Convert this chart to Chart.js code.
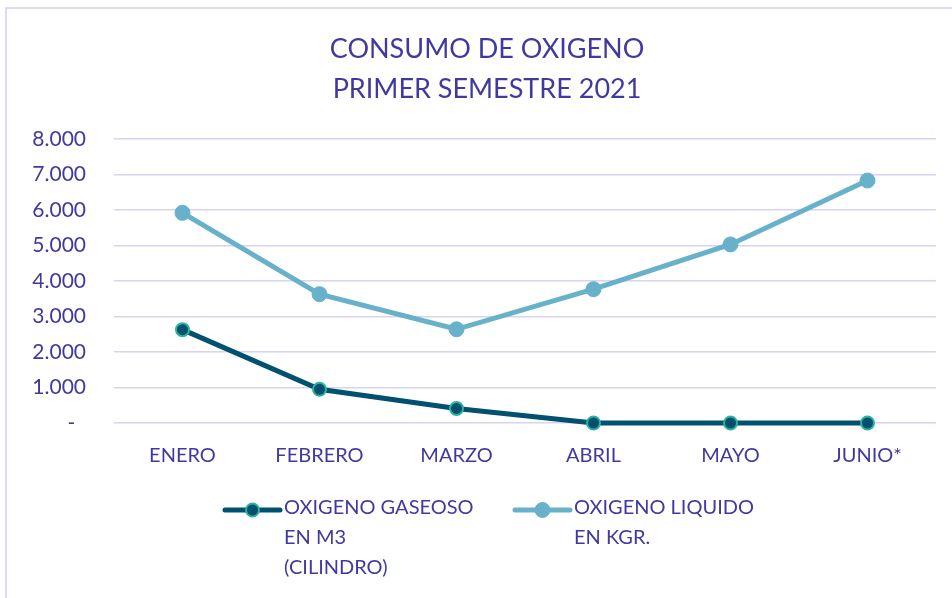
<!DOCTYPE html>
<html>
<head>
<meta charset="utf-8">
<script src="https://cdn.jsdelivr.net/npm/chart.js@4/dist/chart.umd.min.js"></script>
<style>
  html, body { margin: 0; padding: 0; background: #fff; }
  #wrap { width: 952px; height: 598px; }
</style>
</head>
<body>
<div id="wrap"><canvas id="grafico" width="952" height="598"></canvas></div>
<script>
// datos
var meses = ['ENERO', 'FEBRERO', 'MARZO', 'ABRIL', 'MAYO', 'JUNIO*'];
var gaseoso = [2630, 950, 410, 0, 0, 0];
var liquido = [5920, 3630, 2640, 3770, 5030, 6830];
var etiquetaGaseoso = ['OXIGENO GASEOSO', 'EN M3', '(CILINDRO)'];
var etiquetaLiquido = ['OXIGENO LIQUIDO', 'EN KGR.'];
var titulo = ['CONSUMO DE OXIGENO', 'PRIMER SEMESTRE 2021'];
var ejeMax = 8000;
var ejePaso = 1000;

var colorTexto = '#403AA0';
var colorRejilla = '#D9D3EF';
var colorLiquido = '#67B1CB';
var colorGaseoso = '#00506F';
var colorBordeGas = '#2BB39E';
var fuente = 'Lato, "Open Sans", sans-serif';

function formatoMiles(v) {
  if (v === 0) return '-  ';
  var s = String(v);
  return s.replace(/\B(?=(\d{3})+(?!\d))/g, '.');
}

// marco, titulo y leyenda dibujados a mano
var pluginMarco = {
  id: 'marco',
  beforeDraw: function (chart) {
    var c = chart.ctx;
    c.save();
    c.strokeStyle = '#D3CFEF';
    c.lineWidth = 1.5;
    c.strokeRect(6, 8, 980, 640);
    c.fillStyle = colorTexto;
    c.font = '27px ' + fuente;
    c.textAlign = 'center';
    c.textBaseline = 'middle';
    titulo.forEach(function (linea, i) {
      c.fillText(linea, 487, 49 + i * 40);
    });
    c.restore();
  },
  afterDraw: function (chart) {
    var c = chart.ctx;
    var items = [
      { x: 225, ancho: 55, texto: etiquetaGaseoso, ds: chart.data.datasets[0] },
      { x: 515, ancho: 55, texto: etiquetaLiquido, ds: chart.data.datasets[1] }
    ];
    var y0 = 508;
    c.save();
    items.forEach(function (it) {
      c.strokeStyle = it.ds.borderColor;
      c.lineWidth = 5;
      c.lineCap = 'round';
      c.beginPath();
      c.moveTo(it.x, y0 + 2);
      c.lineTo(it.x + it.ancho, y0 + 2);
      c.stroke();
      c.beginPath();
      c.arc(it.x + it.ancho / 2, y0 + 2, it.ds.pointRadius, 0, Math.PI * 2);
      c.fillStyle = it.ds.pointBackgroundColor;
      c.fill();
      c.lineWidth = it.ds.pointBorderWidth;
      c.strokeStyle = it.ds.pointBorderColor;
      c.stroke();
      c.fillStyle = colorTexto;
      c.font = '20px ' + fuente;
      c.textBaseline = 'middle';
      c.textAlign = 'left';
      it.texto.forEach(function (linea, i) {
        c.fillText(linea, it.x + it.ancho + 4, y0 + i * 30);
      });
    });
    c.restore();
  }
};

var ctx = document.getElementById('grafico').getContext('2d');
var grafico = new Chart(ctx, {
  type: 'line',
  data: {
    labels: meses,
    datasets: [
      {
        label: etiquetaGaseoso.join(' '),
        data: gaseoso,
        borderColor: colorGaseoso,
        backgroundColor: colorGaseoso,
        borderWidth: 5,
        pointRadius: 6.5,
        pointHoverRadius: 6.5,
        pointBackgroundColor: colorGaseoso,
        pointBorderColor: colorBordeGas,
        pointBorderWidth: 2,
        tension: 0,
        clip: false
      },
      {
        label: etiquetaLiquido.join(' '),
        data: liquido,
        borderColor: colorLiquido,
        backgroundColor: colorLiquido,
        borderWidth: 5,
        pointRadius: 7.5,
        pointHoverRadius: 7.5,
        pointBackgroundColor: colorLiquido,
        pointBorderColor: colorLiquido,
        pointBorderWidth: 1,
        tension: 0,
        clip: false
      }
    ]
  },
  options: {
    responsive: false,
    animation: false,
    layout: { padding: { top: 139, right: 16, bottom: 125, left: 0 } },
    plugins: {
      legend: { display: false },
      tooltip: { enabled: false },
      title: { display: false }
    },
    scales: {
      x: {
        offset: true,
        grid: { display: false },
        border: { display: false },
        ticks: { color: colorTexto, font: { family: fuente, size: 20 }, padding: 13, maxRotation: 0 },
        afterFit: function (s) { s.height = 50; }
      },
      y: {
        min: 0,
        max: ejeMax,
        grid: { color: colorRejilla, lineWidth: 1.5, drawTicks: false },
        border: { display: false },
        ticks: {
          stepSize: ejePaso,
          color: colorTexto,
          font: { family: fuente, size: 21 },
          padding: 28,
          callback: function (v) { return formatoMiles(v); }
        },
        afterFit: function (s) { s.width = 114; }
      }
    }
  },
  plugins: [pluginMarco]
});
</script>
</body>
</html>
